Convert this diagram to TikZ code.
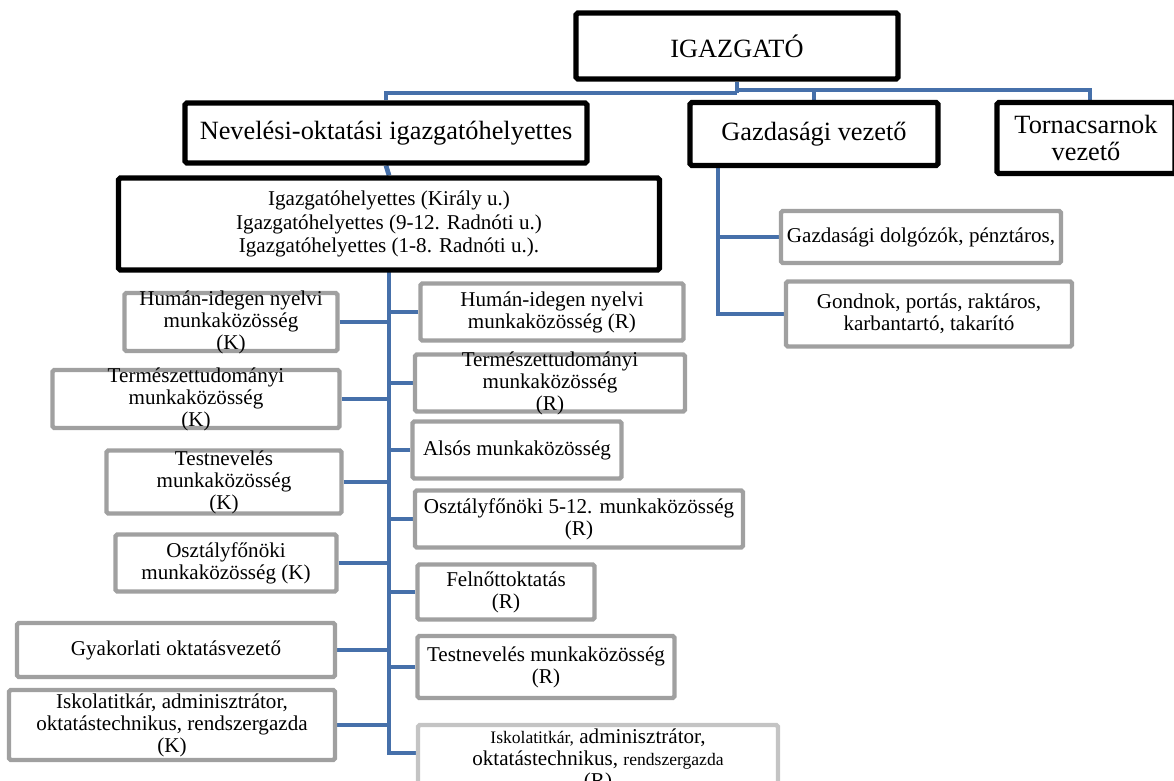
\documentclass[tikz,border=0pt]{standalone}
\usepackage{fontspec}
\setmainfont{Liberation Serif}
\usetikzlibrary{backgrounds}
\definecolor{connblue}{RGB}{70,112,170}
\definecolor{boxgray}{RGB}{160,160,160}
\definecolor{paleboxgray}{RGB}{196,196,196}

\begin{document}
\begin{tikzpicture}[x=0.02cm, y=-0.02cm,
    headbox/.style={draw=black, line width=3pt, rounded corners=1pt, fill=white, align=center, inner sep=0pt},
    unitbox/.style={draw=boxgray, line width=2.5pt, rounded corners=1pt, fill=white, inner sep=0pt},
    boxtxt/.style={align=center, inner sep=0pt, font=\fontsize{12}{12.5}\selectfont},
    conn/.style={draw=connblue, line width=2.7pt}]
  \useasboundingbox (0,0) rectangle (1174,781);

  % leadership
  \node[headbox, font=\fontsize{15}{17}\selectfont, minimum width=6.44cm, minimum height=1.32cm] (igazgato) at (737,46) {IGAZGATÓ};
  \node[headbox, font=\fontsize{15}{17}\selectfont, minimum width=8.04cm, minimum height=1.2cm] (nevelesi) at (386,133) {Nevelési-oktatási igazgatóhelyettes};
  \node[headbox, font=\fontsize{15}{17}\selectfont, minimum width=4.96cm, minimum height=1.26cm] (gazdvez) at (814,134) {Gazdasági vezető};
  \node[headbox, font=\fontsize{15}{15}\selectfont, minimum width=3.56cm, minimum height=1.42cm] (torna) at (1086,138) {Tornacsarnok\\vezető};
  \node[headbox, font=\fontsize{12}{13.6}\selectfont, minimum width=10.82cm, minimum height=1.84cm] (helyettes) at (389,224) {Igazgatóhelyettes (Király u.)\\Igazgatóhelyettes (9-12. Radnóti u.)\\Igazgatóhelyettes (1-8. Radnóti u.).};

  % gazdasagi staff
  \node[unitbox, minimum width=5.6cm, minimum height=1.04cm, label={[boxtxt]center:{Gazdasági dolgózók, pénztáros,}}] (dolgozok) at (921,237) {};
  \node[unitbox, minimum width=5.72cm, minimum height=1.3cm, label={[boxtxt]center:{Gondnok, portás, raktáros,\\karbantartó, takarító}}] (gondnok) at (929,314) {};

  % left column (K)
  \node[unitbox, minimum width=4.26cm, minimum height=1.16cm, label={[boxtxt]center:{Humán-idegen nyelvi\\munkaközösség\\(K)}}] (hk) at (231,322) {};
  \node[unitbox, minimum width=5.74cm, minimum height=1.16cm, label={[boxtxt]center:{Természettudományi\\munkaközösség\\(K)}}] (tk) at (196,399) {};
  \node[unitbox, minimum width=4.7cm, minimum height=1.26cm, label={[boxtxt]center:{Testnevelés\\munkaközösség\\(K)}}] (tek) at (224,482) {};
  \node[unitbox, minimum width=4.42cm, minimum height=1.14cm, label={[boxtxt]center:{Osztályfőnöki\\munkaközösség (K)}}] (ok) at (226,563) {};
  \node[unitbox, minimum width=6.36cm, minimum height=1.08cm, label={[boxtxt]center:{Gyakorlati oktatásvezető}}] (gyak) at (176,650) {};
  \node[unitbox, minimum width=6.52cm, minimum height=1.4cm, label={[boxtxt]center:{Iskolatitkár, adminisztrátor,\\oktatástechnikus, rendszergazda\\(K)}}] (ik) at (172,725) {};

  % right column (R)
  \node[unitbox, minimum width=5.26cm, minimum height=1.14cm, label={[boxtxt]center:{Humán-idegen nyelvi\\munkaközösség (R)}}] (hr) at (552,312) {};
  \node[unitbox, minimum width=5.4cm, minimum height=1.14cm, label={[boxtxt]center:{Természettudományi\\munkaközösség\\(R)}}] (tr) at (550,383) {};
  \node[unitbox, minimum width=4.18cm, minimum height=1.14cm, label={[boxtxt]center:{Alsós munkaközösség}}] (alsos) at (517,450) {};
  \node[unitbox, minimum width=6.56cm, minimum height=1.14cm, label={[boxtxt]center:{Osztályfőnöki 5-12. munkaközösség\\(R)}}] (osr) at (579,519) {};
  \node[unitbox, minimum width=3.54cm, minimum height=1.1cm, label={[boxtxt]center:{Felnőttoktatás\\(R)}}] (felr) at (506,592) {};
  \node[unitbox, minimum width=5.14cm, minimum height=1.24cm, label={[boxtxt]center:{Testnevelés munkaközösség\\(R)}}] (tesr) at (546,667) {};
  \node[unitbox, draw=paleboxgray, minimum width=7.2cm, minimum height=1.4cm, label={[boxtxt]center:{{\fontsize{10}{12.5}\selectfont Iskolatitkár,} adminisztrátor,\\oktatástechnikus, {\fontsize{10}{12.5}\selectfont rendszergazda}\\(R)}}] (isr) at (598,760) {};

  \coordinate (busl) at (0,93);
  \coordinate (busr) at (1090,90);
  \coordinate (trtop) at (389,270);
  \coordinate (trbot) at (389,753);
  \coordinate (gv) at (718,165);

  \begin{scope}[on background layer]
    \draw[conn] (igazgato.south) -- (igazgato.south |- busl);
    \draw[conn] (nevelesi.north) -- (nevelesi.north |- busl) -- (igazgato.south |- busl);
    \draw[conn] (igazgato.south |- busr) -- (busr) -- (torna.north -| busr);
    \draw[conn] (gazdvez.north |- busr) -- (gazdvez.north);
    \draw[conn] (nevelesi.south) -- (helyettes.north -| trtop);
    \draw[conn] (trtop) -- (trbot) -- (trbot -| isr.west);
    \foreach \n in {hk,tk,tek,ok,gyak,ik}
      \draw[conn] (\n.east) -- (\n.east -| trtop);
    \foreach \n in {hr,tr,alsos,osr,felr,tesr}
      \draw[conn] (\n.west) -- (\n.west -| trtop);
    \draw[conn] (gv) |- (gondnok.west);
    \draw[conn] (dolgozok.west) -- (dolgozok.west -| gv);
  \end{scope}
\end{tikzpicture}
\end{document}
